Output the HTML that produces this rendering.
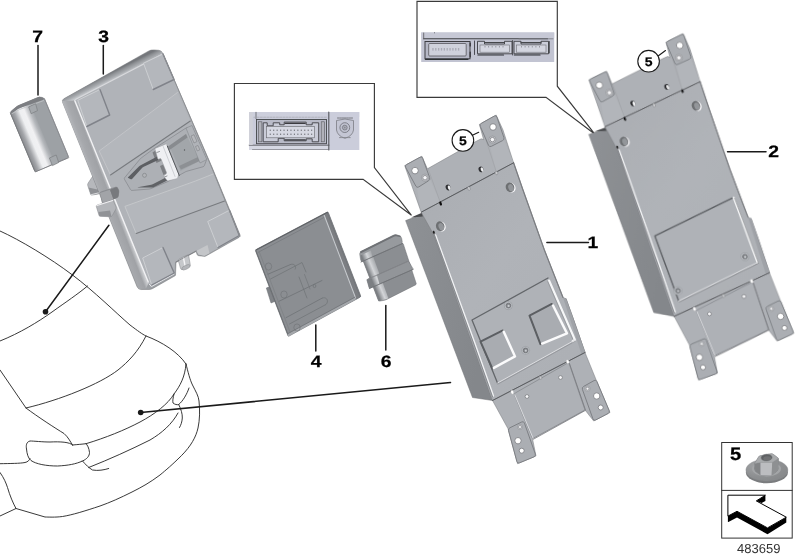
<!DOCTYPE html>
<html><head><meta charset="utf-8"><title>483659</title>
<style>html,body{margin:0;padding:0;background:#fff}svg{display:block}text{font-family:"Liberation Sans",Arial,sans-serif}</style>
</head><body>
<svg width="800" height="560" viewBox="0 0 800 560" text-rendering="geometricPrecision">
<defs>
<linearGradient id="gFace1" x1="0" y1="0" x2="1" y2="1"><stop offset="0" stop-color="#aaadb2"/><stop offset="0.45" stop-color="#b0b3b8"/><stop offset="1" stop-color="#acafb4"/></linearGradient>
<linearGradient id="gSide1" x1="0" y1="0" x2="1" y2="0.4"><stop offset="0" stop-color="#8e9195"/><stop offset="1" stop-color="#84878b"/></linearGradient>
<linearGradient id="gCyl7" gradientUnits="userSpaceOnUse" x1="10" y1="113" x2="31" y2="104.2"><stop offset="0" stop-color="#85878b"/><stop offset="0.18" stop-color="#a4a6aa"/><stop offset="0.42" stop-color="#eeeff1"/><stop offset="0.62" stop-color="#f1f1f3"/><stop offset="0.85" stop-color="#b4b7bb"/><stop offset="1" stop-color="#9da1a5"/></linearGradient>
<linearGradient id="gCyl6" gradientUnits="userSpaceOnUse" x1="360" y1="252" x2="372" y2="247"><stop offset="0" stop-color="#7c7f83"/><stop offset="0.4" stop-color="#d3d5d8"/><stop offset="1" stop-color="#8d9094"/></linearGradient>
<radialGradient id="gNut" cx="0.35" cy="0.3" r="0.85"><stop offset="0" stop-color="#a5a7a9"/><stop offset="0.6" stop-color="#8d8f91"/><stop offset="1" stop-color="#848688"/></radialGradient>
<filter id="soft" x="-5%" y="-5%" width="110%" height="110%"><feGaussianBlur stdDeviation="0.35"/></filter>
<filter id="soft2" x="-10%" y="-10%" width="120%" height="120%"><feGaussianBlur stdDeviation="0.7"/></filter>
</defs>
<rect width="800" height="560" fill="#fff"/>
<path d="M0 231 C20 240 50 258 72.5 275 C95 292 115 312 130 325 C138 331 142 334 146 336 C162 342 178 352 186 364" fill="none" stroke="#222" stroke-width="0.9" stroke-linecap="round" stroke-linejoin="round"/>
<path d="M0 341 C20 333 38 322 52 312 C66 302 78 294 87.5 286" fill="none" stroke="#222" stroke-width="0.9" stroke-linecap="round" stroke-linejoin="round"/>
<path d="M146 336 C138 352 128 362 118 370 C100 384 60 400 26 408" fill="none" stroke="#222" stroke-width="0.9" stroke-linecap="round" stroke-linejoin="round"/>
<path d="M0 370 L26 408 C38 417 55 428 64 433.5 C68 437 70 441 72.5 445" fill="none" stroke="#222" stroke-width="0.9" stroke-linecap="round" stroke-linejoin="round"/>
<path d="M72.5 445 C78 444.5 82 444.2 86 443.7 C105 438 125 430 140 422 C155 414 168 404 174 394 C180 386 185 377 186 364" fill="none" stroke="#222" stroke-width="0.9" stroke-linecap="round" stroke-linejoin="round"/>
<path d="M186 364 C188 372 190 380 192.5 385 C196 392 198.5 396 199 401 C200 410 199.8 420 198 428 C196 437 191 446 181.4 455.7 C172 465 166 470 160 475 C150 482.5 142 487 132 492 C120 498 110 502.5 100 506 C85 511 72 515 62.5 516.5 C55 517.5 48 517 45 517 L16 508.5" fill="none" stroke="#222" stroke-width="0.9" stroke-linecap="round" stroke-linejoin="round"/>
<path d="M174 394 C173 398 172.5 401 173 403 C175 404.5 177 405 178.7 404.5 C183 401 187 394 189 388" fill="none" stroke="#222" stroke-width="0.9" stroke-linecap="round" stroke-linejoin="round"/>
<path d="M178.7 404.5 C181 409 182.5 414 182.3 418 C182 422 181 425 179.5 427.5" fill="none" stroke="#222" stroke-width="0.9" stroke-linecap="round" stroke-linejoin="round"/>
<path d="M88.7 467.5 C110 459 130 450 150 440 C162 433 172 424 178 413" fill="none" stroke="#222" stroke-width="0.9" stroke-linecap="round" stroke-linejoin="round"/>
<path d="M82.5 461 C86 465 89 468 92.5 470 C98 471 104 470 108.7 468.5" fill="none" stroke="#222" stroke-width="0.9" stroke-linecap="round" stroke-linejoin="round"/>
<path d="M72.5 445 C70 442 60 441.5 50 442 C42 442 34 441 30 441 C26 442 26 446 26.5 449 C27 454 28 458 31 460.5 C36 464 46 466 57.5 466 C68 465.5 76 464 82.5 461 C87 459 89.5 456 89.5 452.5 C89 448 87.5 445 86 443.7" fill="none" stroke="#222" stroke-width="0.9" stroke-linecap="round" stroke-linejoin="round"/>
<path d="M0 463.7 C10 463.5 20 463.5 25 462.5 C28 462 29.5 460 30 458.5" fill="none" stroke="#222" stroke-width="0.9" stroke-linecap="round" stroke-linejoin="round"/>
<path d="M0 472.5 C4 478 6 483 7.5 487.5 C10 496 13 503 16 508.5 L0 516" fill="none" stroke="#222" stroke-width="0.9" stroke-linecap="round" stroke-linejoin="round"/>
<polyline points="45.50,311.70 108.90,225.30" fill="none" stroke="#1a1a1a" stroke-width="1.5" stroke-linecap="round" stroke-linejoin="round" />
<circle cx="45.50" cy="311.70" r="2.80" fill="#1a1a1a" stroke="none" stroke-width="0.5" />
<polyline points="140.70,412.50 450.50,382.60" fill="none" stroke="#1a1a1a" stroke-width="1.5" stroke-linecap="round" stroke-linejoin="round" />
<circle cx="140.70" cy="412.50" r="2.80" fill="#1a1a1a" stroke="none" stroke-width="0.5" />
<polyline points="38.00,45.50 38.00,95.00" fill="none" stroke="#1a1a1a" stroke-width="1.5" stroke-linecap="round" stroke-linejoin="round" />
<polyline points="103.30,45.50 103.30,74.00" fill="none" stroke="#1a1a1a" stroke-width="1.5" stroke-linecap="round" stroke-linejoin="round" />
<polyline points="315.80,325.00 315.80,351.00" fill="none" stroke="#1a1a1a" stroke-width="1.5" stroke-linecap="round" stroke-linejoin="round" />
<polyline points="385.80,305.50 385.80,350.00" fill="none" stroke="#1a1a1a" stroke-width="1.5" stroke-linecap="round" stroke-linejoin="round" />
<polyline points="546.90,242.50 588.50,242.50" fill="none" stroke="#1a1a1a" stroke-width="1.5" stroke-linecap="round" stroke-linejoin="round" />
<polyline points="727.50,151.70 766.00,151.70" fill="none" stroke="#1a1a1a" stroke-width="1.5" stroke-linecap="round" stroke-linejoin="round" />
<text opacity="0.999" transform="translate(37.50 42.20) scale(1.17 1)" font-size="16.5" font-weight="bold" text-anchor="middle" fill="#000" stroke="#000" stroke-width="0.25" >7</text>
<text opacity="0.999" transform="translate(103.50 42.20) scale(1.17 1)" font-size="16.5" font-weight="bold" text-anchor="middle" fill="#000" stroke="#000" stroke-width="0.25" >3</text>
<text opacity="0.999" transform="translate(316.00 366.90) scale(1.17 1)" font-size="16.5" font-weight="bold" text-anchor="middle" fill="#000" stroke="#000" stroke-width="0.25" >4</text>
<text opacity="0.999" transform="translate(386.00 366.90) scale(1.17 1)" font-size="16.5" font-weight="bold" text-anchor="middle" fill="#000" stroke="#000" stroke-width="0.25" >6</text>
<text opacity="0.999" transform="translate(592.80 248.00) scale(1.17 1)" font-size="16.5" font-weight="bold" text-anchor="middle" fill="#000" stroke="#000" stroke-width="0.25" >1</text>
<text opacity="0.999" transform="translate(773.50 156.90) scale(1.17 1)" font-size="16.5" font-weight="bold" text-anchor="middle" fill="#000" stroke="#000" stroke-width="0.25" >2</text>
<path d="M234.4 83.5 H374.4 V167.5 L411.5 215.3 L363.1 179.3 H234.4 Z" fill="#fff" stroke="#3a3a3a" stroke-width="1.15" stroke-linejoin="miter"/>
<path d="M417 1.3 H557.3 V86.2 L595 134.3 L546 97.3 H417 Z" fill="#fff" stroke="#3a3a3a" stroke-width="1.15" stroke-linejoin="miter"/>
<g filter="url(#soft)">
<polygon points="404.70,165.60 421.90,156.20 427.40,168.80 476.20,141.30 481.20,138.80 483.60,139.60 479.40,124.40 496.20,115.00 503.00,130.00 513.60,162.80 421.20,212.20" fill="#aeb1b6" stroke="#77797d" stroke-width="0.5" stroke-linejoin="round" />
<polygon points="416.90,188.10 430.00,179.40 440.60,203.20 421.20,212.20" fill="#b2b5ba" stroke="none" stroke-width="0.6" stroke-linejoin="round" />
<polygon points="490.00,145.60 503.70,139.50 513.60,162.80 496.50,172.50" fill="#b2b5ba" stroke="none" stroke-width="0.6" stroke-linejoin="round" />
<polyline points="428.10,168.80 440.60,203.20" fill="none" stroke="#9a9ca0" stroke-width="0.5" stroke-linecap="round" stroke-linejoin="round" />
<polyline points="486.00,140.00 496.50,172.50" fill="none" stroke="#9a9ca0" stroke-width="0.5" stroke-linecap="round" stroke-linejoin="round" />
<path d="M405.75 167.53 Q404.70 165.60 406.63 164.54 L419.97 157.26 Q421.90 156.20 422.65 158.27 L429.65 177.53 Q430.40 179.60 428.54 180.77 L418.76 186.93 Q416.90 188.10 415.85 186.17 Z" fill="#abaeb3" stroke="#787b7f" stroke-width="0.9" />
<circle cx="415.00" cy="170.60" r="3.30" fill="#fff" stroke="#77797d" stroke-width="0.8" />
<circle cx="425.00" cy="177.70" r="3.60" fill="#c6c8cc" stroke="#8a8c90" stroke-width="0.6" />
<circle cx="425.00" cy="177.70" r="2.20" fill="#f6f6f8" stroke="#77797d" stroke-width="0.7" />
<path d="M480.28 126.42 Q479.40 124.40 481.32 123.33 L494.28 116.07 Q496.20 115.00 496.91 117.08 L503.89 137.52 Q504.60 139.60 502.64 140.59 L491.36 146.31 Q489.40 147.30 488.52 145.28 Z" fill="#abaeb3" stroke="#787b7f" stroke-width="0.9" />
<circle cx="493.00" cy="127.00" r="3.30" fill="#fff" stroke="#77797d" stroke-width="0.8" />
<circle cx="492.40" cy="139.60" r="3.60" fill="#c6c8cc" stroke="#8a8c90" stroke-width="0.6" />
<circle cx="492.40" cy="139.60" r="2.20" fill="#f6f6f8" stroke="#77797d" stroke-width="0.7" />
<ellipse cx="448.10" cy="187.50" rx="2.40" ry="2.90" fill="#2e2f32" stroke="none" stroke-width="0.5" transform="rotate(-20 448.10 187.50)" />
<ellipse cx="449.20" cy="187.70" rx="1.30" ry="2.30" fill="#ecedef" stroke="none" stroke-width="0.5" transform="rotate(-20 449.20 187.70)" />
<ellipse cx="481.00" cy="169.40" rx="2.40" ry="2.90" fill="#2e2f32" stroke="none" stroke-width="0.5" transform="rotate(-20 481.00 169.40)" />
<ellipse cx="482.10" cy="169.60" rx="1.30" ry="2.30" fill="#ecedef" stroke="none" stroke-width="0.5" transform="rotate(-20 482.10 169.60)" />
<polygon points="405.60,220.60 422.50,214.20 433.50,233.00 492.50,400.50 472.50,397.50" fill="url(#gSide1)" stroke="#6f7175" stroke-width="0.5" stroke-linejoin="round" />
<polygon points="411.00,217.50 422.50,212.60 422.80,216.50" fill="#4a4b4e" stroke="none" stroke-width="0.6" stroke-linejoin="round" />
<polygon points="421.20,212.20 513.60,162.80 523.00,190.00 544.40,250.00 563.00,297.50 566.00,298.70 573.70,320.00 585.00,352.50 492.50,400.50 433.30,234.00" fill="url(#gFace1)" stroke="#7d7f83" stroke-width="0.6" stroke-linejoin="round" />
<polyline points="435.60,235.00 475.00,343.50 493.50,396.00" fill="none" stroke="#f0f1f3" stroke-width="1.4" stroke-linecap="round" stroke-linejoin="round" />
<polyline points="434.30,234.50 474.00,344.50 492.60,397.00" fill="none" stroke="#6c6e72" stroke-width="0.6" stroke-linecap="round" stroke-linejoin="round" />
<polyline points="513.60,162.80 523.00,190.00 544.40,250.00 563.00,297.50" fill="none" stroke="#7b7d81" stroke-width="1.2" stroke-linecap="round" stroke-linejoin="round" />
<polyline points="566.00,298.70 573.70,320.00 585.00,352.50" fill="none" stroke="#8b8d91" stroke-width="1.0" stroke-linecap="round" stroke-linejoin="round" />
<polygon points="563.00,297.50 566.00,298.70 585.00,352.50 581.50,354.30" fill="#a0a3a8" stroke="none" stroke-width="0.6" stroke-linejoin="round" />
<polyline points="421.20,212.20 513.60,162.80" fill="none" stroke="#55575a" stroke-width="0.9" stroke-linecap="round" stroke-linejoin="round" />
<ellipse cx="440.60" cy="203.50" rx="1.20" ry="2.20" fill="#111" stroke="none" stroke-width="0.5" transform="rotate(-20 440.60 203.50)" />
<ellipse cx="469.00" cy="188.50" rx="1.30" ry="1.90" fill="#c9cacd" stroke="#77797d" stroke-width="0.4" transform="rotate(-20 469.00 188.50)" />
<ellipse cx="496.50" cy="173.00" rx="1.30" ry="1.90" fill="#c9cacd" stroke="#77797d" stroke-width="0.4" transform="rotate(-20 496.50 173.00)" />
<ellipse cx="441.50" cy="226.60" rx="4.20" ry="4.90" fill="#f8f8fa" stroke="none" stroke-width="0.5" transform="rotate(-20 441.50 226.60)" />
<ellipse cx="440.20" cy="226.20" rx="4.20" ry="4.90" fill="#6d6f72" stroke="none" stroke-width="0.5" transform="rotate(-20 440.20 226.20)" />
<ellipse cx="441.20" cy="226.70" rx="2.60" ry="3.80" fill="#93969a" stroke="none" stroke-width="0.5" transform="rotate(-20 441.20 226.70)" />
<ellipse cx="511.30" cy="187.70" rx="4.20" ry="4.90" fill="#f8f8fa" stroke="none" stroke-width="0.5" transform="rotate(-20 511.30 187.70)" />
<ellipse cx="510.00" cy="187.30" rx="4.20" ry="4.90" fill="#6d6f72" stroke="none" stroke-width="0.5" transform="rotate(-20 510.00 187.30)" />
<ellipse cx="511.00" cy="187.80" rx="2.60" ry="3.80" fill="#93969a" stroke="none" stroke-width="0.5" transform="rotate(-20 511.00 187.80)" />
<ellipse cx="433.80" cy="232.30" rx="1.00" ry="1.60" fill="#222" stroke="none" stroke-width="0.5" transform="rotate(-20 433.80 232.30)" />
<polygon points="492.50,400.50 585.00,352.50 596.00,379.50 610.00,412.50 593.70,421.00 585.00,410.00 532.50,438.70 536.00,456.00 517.50,463.70 508.00,428.70" fill="#aeb1b6" stroke="#77797d" stroke-width="0.5" stroke-linejoin="round" />
<polyline points="492.50,400.50 585.00,352.50" fill="none" stroke="#55575a" stroke-width="0.9" stroke-linecap="round" stroke-linejoin="round" />
<path d="M514.57 395.09 Q514.00 393.70 515.30 392.96 L567.40 363.24 Q568.70 362.50 569.19 363.92 L584.51 408.58 Q585.00 410.00 583.68 410.72 L533.82 437.98 Q532.50 438.70 531.93 437.31 Z" fill="#aeb1b6" stroke="#82858a" stroke-width="0.7" />
<polyline points="514.80,394.80 533.00,438.00" fill="none" stroke="#dfe0e3" stroke-width="0.9" stroke-linecap="round" stroke-linejoin="round" />
<polyline points="569.50,363.50 585.60,410.30 533.50,439.20" fill="none" stroke="#77797d" stroke-width="0.8" stroke-linecap="round" stroke-linejoin="round" />
<path d="M508.58 430.82 Q508.00 428.70 509.98 427.73 L521.72 421.97 Q523.70 421.00 524.43 423.08 L535.27 453.92 Q536.00 456.00 533.97 456.85 L519.53 462.85 Q517.50 463.70 516.92 461.58 Z" fill="#abaeb3" stroke="#787b7f" stroke-width="0.9" />
<circle cx="520.00" cy="427.00" r="2.70" fill="#c6c8cc" stroke="#8a8c90" stroke-width="0.5" />
<circle cx="520.00" cy="427.00" r="1.50" fill="#f6f6f8" stroke="#77797d" stroke-width="0.6" />
<circle cx="518.00" cy="440.70" r="3.20" fill="#fff" stroke="#77797d" stroke-width="0.8" />
<circle cx="521.70" cy="450.70" r="2.50" fill="#fff" stroke="#77797d" stroke-width="0.8" />
<path d="M582.44 389.57 Q581.70 387.50 583.62 386.43 L594.08 380.57 Q596.00 379.50 596.86 381.53 L609.14 410.47 Q610.00 412.50 608.05 413.52 L595.65 419.98 Q593.70 421.00 592.96 418.93 Z" fill="#abaeb3" stroke="#787b7f" stroke-width="0.9" />
<circle cx="587.50" cy="388.70" r="2.70" fill="#c6c8cc" stroke="#8a8c90" stroke-width="0.5" />
<circle cx="587.50" cy="388.70" r="1.50" fill="#f6f6f8" stroke="#77797d" stroke-width="0.6" />
<circle cx="596.70" cy="396.00" r="3.20" fill="#fff" stroke="#77797d" stroke-width="0.8" />
<circle cx="600.70" cy="407.50" r="2.50" fill="#fff" stroke="#77797d" stroke-width="0.8" />
<circle cx="527.00" cy="396.50" r="1.90" fill="#f6f6f8" stroke="#707276" stroke-width="0.7" />
<circle cx="560.50" cy="377.50" r="1.90" fill="#f6f6f8" stroke="#707276" stroke-width="0.7" />
<ellipse cx="512.30" cy="392.20" rx="1.40" ry="2.00" fill="#fff" stroke="#9a9c9f" stroke-width="0.3" transform="rotate(-20 512.30 392.20)" />
<ellipse cx="567.70" cy="361.70" rx="1.40" ry="2.00" fill="#fff" stroke="#9a9c9f" stroke-width="0.3" transform="rotate(-20 567.70 361.70)" />
<ellipse cx="540.50" cy="377.70" rx="1.30" ry="1.70" fill="#c9cacd" stroke="#77797d" stroke-width="0.4" transform="rotate(-20 540.50 377.70)" />
<path d="M473.13 322.78 Q472.00 320.00 474.63 318.55 L545.37 279.45 Q548.00 278.00 549.20 280.75 L573.80 337.25 Q575.00 340.00 572.38 341.46 L500.12 381.54 Q497.50 383.00 496.37 380.22 Z" fill="#afb2b7" stroke="none" stroke-width="0" />
<polyline points="497.50,383.00 472.00,320.00 548.00,278.00" fill="none" stroke="#63666a" stroke-width="1.3" stroke-linecap="round" stroke-linejoin="round" />
<polyline points="549.08,280.48 575.00,340.00 572.67,341.29" fill="none" stroke="#f6f7f8" stroke-width="2.1" stroke-linecap="round" stroke-linejoin="round" />
<polyline points="549.35,281.10 574.19,338.14" fill="none" stroke="#8b8d91" stroke-width="0.6" stroke-linecap="round" stroke-linejoin="round" transform="translate(-1.6 0.6)"/>
<polyline points="575.00,340.00 497.50,383.00" fill="none" stroke="#dcdde0" stroke-width="1.0" stroke-linecap="round" stroke-linejoin="round" />
<polyline points="575.00,340.00 497.50,383.00" fill="none" stroke="#85878b" stroke-width="0.6" stroke-linecap="round" stroke-linejoin="round" transform="translate(0.4 1.1)"/>
<path d="M480.80 342.83 Q480.00 341.00 481.79 340.11 L501.21 330.39 Q503.00 329.50 503.83 331.32 L514.67 355.18 Q515.50 357.00 513.74 357.96 L494.26 368.54 Q492.50 369.50 491.70 367.67 Z" fill="#a9acb1" stroke="none" stroke-width="0" />
<g filter="url(#soft2)">
<polyline points="491.88,368.07 480.00,341.00 502.31,329.85" fill="none" stroke="#5c5f63" stroke-width="2.0" stroke-linecap="round" stroke-linejoin="round" transform="translate(0.5 0.6)"/>
<polyline points="504.25,332.25 515.50,357.00 494.34,368.50" fill="none" stroke="#fbfbfc" stroke-width="2.4" stroke-linecap="round" stroke-linejoin="round" transform="translate(-0.5 -0.6)"/>
</g>
<path d="M529.72 316.87 Q529.00 315.00 530.77 314.07 L550.23 303.93 Q552.00 303.00 552.89 304.79 L566.61 332.21 Q567.50 334.00 565.65 334.75 L542.35 344.25 Q540.50 345.00 539.78 343.13 Z" fill="#a9acb1" stroke="none" stroke-width="0" />
<g filter="url(#soft2)">
<polyline points="539.92,343.50 529.00,315.00 551.31,303.36" fill="none" stroke="#5c5f63" stroke-width="2.0" stroke-linecap="round" stroke-linejoin="round" transform="translate(0.5 0.6)"/>
<polyline points="553.55,306.10 567.50,334.00 542.66,344.12" fill="none" stroke="#fbfbfc" stroke-width="2.4" stroke-linecap="round" stroke-linejoin="round" transform="translate(-0.5 -0.6)"/>
</g>
<circle cx="508.40" cy="305.60" r="4.00" fill="#bbbec3" stroke="#8f9296" stroke-width="0.5" />
<circle cx="508.40" cy="305.60" r="2.40" fill="#84878b" stroke="#5f6266" stroke-width="0.6" />
<circle cx="508.60" cy="305.90" r="1.10" fill="#c9ccd0" stroke="none" stroke-width="0.5" />
<circle cx="525.60" cy="350.40" r="4.00" fill="#bbbec3" stroke="#8f9296" stroke-width="0.5" />
<circle cx="525.60" cy="350.40" r="2.40" fill="#84878b" stroke="#5f6266" stroke-width="0.6" />
<circle cx="525.80" cy="350.70" r="1.10" fill="#c9ccd0" stroke="none" stroke-width="0.5" />
</g>
<g transform="matrix(1.020733 0.042918 -0.018635 0.991014 178.921 -101.655)" filter="url(#soft)">
<polygon points="404.70,165.60 421.90,156.20 427.40,168.80 476.20,141.30 481.20,138.80 483.60,139.60 479.40,124.40 496.20,115.00 503.00,130.00 513.60,162.80 421.20,212.20" fill="#aeb1b6" stroke="#77797d" stroke-width="0.5" stroke-linejoin="round" />
<polygon points="416.90,188.10 430.00,179.40 440.60,203.20 421.20,212.20" fill="#b2b5ba" stroke="none" stroke-width="0.6" stroke-linejoin="round" />
<polygon points="490.00,145.60 503.70,139.50 513.60,162.80 496.50,172.50" fill="#b2b5ba" stroke="none" stroke-width="0.6" stroke-linejoin="round" />
<polyline points="428.10,168.80 440.60,203.20" fill="none" stroke="#9a9ca0" stroke-width="0.5" stroke-linecap="round" stroke-linejoin="round" />
<polyline points="486.00,140.00 496.50,172.50" fill="none" stroke="#9a9ca0" stroke-width="0.5" stroke-linecap="round" stroke-linejoin="round" />
<path d="M405.75 167.53 Q404.70 165.60 406.63 164.54 L419.97 157.26 Q421.90 156.20 422.65 158.27 L429.65 177.53 Q430.40 179.60 428.54 180.77 L418.76 186.93 Q416.90 188.10 415.85 186.17 Z" fill="#abaeb3" stroke="#787b7f" stroke-width="0.9" />
<circle cx="415.00" cy="170.60" r="3.30" fill="#fff" stroke="#77797d" stroke-width="0.8" />
<circle cx="425.00" cy="177.70" r="3.60" fill="#c6c8cc" stroke="#8a8c90" stroke-width="0.6" />
<circle cx="425.00" cy="177.70" r="2.20" fill="#f6f6f8" stroke="#77797d" stroke-width="0.7" />
<path d="M480.28 126.42 Q479.40 124.40 481.32 123.33 L494.28 116.07 Q496.20 115.00 496.91 117.08 L503.89 137.52 Q504.60 139.60 502.64 140.59 L491.36 146.31 Q489.40 147.30 488.52 145.28 Z" fill="#abaeb3" stroke="#787b7f" stroke-width="0.9" />
<circle cx="493.00" cy="127.00" r="3.30" fill="#fff" stroke="#77797d" stroke-width="0.8" />
<circle cx="492.40" cy="139.60" r="3.60" fill="#c6c8cc" stroke="#8a8c90" stroke-width="0.6" />
<circle cx="492.40" cy="139.60" r="2.20" fill="#f6f6f8" stroke="#77797d" stroke-width="0.7" />
<ellipse cx="448.10" cy="187.50" rx="2.40" ry="2.90" fill="#2e2f32" stroke="none" stroke-width="0.5" transform="rotate(-20 448.10 187.50)" />
<ellipse cx="449.20" cy="187.70" rx="1.30" ry="2.30" fill="#ecedef" stroke="none" stroke-width="0.5" transform="rotate(-20 449.20 187.70)" />
<ellipse cx="481.00" cy="169.40" rx="2.40" ry="2.90" fill="#2e2f32" stroke="none" stroke-width="0.5" transform="rotate(-20 481.00 169.40)" />
<ellipse cx="482.10" cy="169.60" rx="1.30" ry="2.30" fill="#ecedef" stroke="none" stroke-width="0.5" transform="rotate(-20 482.10 169.60)" />
<polygon points="405.60,220.60 422.50,214.20 433.50,233.00 492.50,400.50 472.50,397.50" fill="url(#gSide1)" stroke="#6f7175" stroke-width="0.5" stroke-linejoin="round" />
<polygon points="411.00,217.50 422.50,212.60 422.80,216.50" fill="#4a4b4e" stroke="none" stroke-width="0.6" stroke-linejoin="round" />
<polygon points="421.20,212.20 513.60,162.80 523.00,190.00 544.40,250.00 563.00,297.50 566.00,298.70 573.70,320.00 585.00,352.50 492.50,400.50 433.30,234.00" fill="url(#gFace1)" stroke="#7d7f83" stroke-width="0.6" stroke-linejoin="round" />
<polyline points="435.60,235.00 475.00,343.50 493.50,396.00" fill="none" stroke="#f0f1f3" stroke-width="1.4" stroke-linecap="round" stroke-linejoin="round" />
<polyline points="434.30,234.50 474.00,344.50 492.60,397.00" fill="none" stroke="#6c6e72" stroke-width="0.6" stroke-linecap="round" stroke-linejoin="round" />
<polyline points="513.60,162.80 523.00,190.00 544.40,250.00 563.00,297.50" fill="none" stroke="#7b7d81" stroke-width="1.2" stroke-linecap="round" stroke-linejoin="round" />
<polyline points="566.00,298.70 573.70,320.00 585.00,352.50" fill="none" stroke="#8b8d91" stroke-width="1.0" stroke-linecap="round" stroke-linejoin="round" />
<polygon points="563.00,297.50 566.00,298.70 585.00,352.50 581.50,354.30" fill="#a0a3a8" stroke="none" stroke-width="0.6" stroke-linejoin="round" />
<polyline points="421.20,212.20 513.60,162.80" fill="none" stroke="#55575a" stroke-width="0.9" stroke-linecap="round" stroke-linejoin="round" />
<ellipse cx="440.60" cy="203.50" rx="1.20" ry="2.20" fill="#111" stroke="none" stroke-width="0.5" transform="rotate(-20 440.60 203.50)" />
<ellipse cx="469.00" cy="188.50" rx="1.30" ry="1.90" fill="#c9cacd" stroke="#77797d" stroke-width="0.4" transform="rotate(-20 469.00 188.50)" />
<ellipse cx="496.50" cy="173.00" rx="1.20" ry="2.00" fill="#1c1c1e" stroke="none" stroke-width="0.5" transform="rotate(-20 496.50 173.00)" />
<ellipse cx="441.50" cy="226.60" rx="4.20" ry="4.90" fill="#f8f8fa" stroke="none" stroke-width="0.5" transform="rotate(-20 441.50 226.60)" />
<ellipse cx="440.20" cy="226.20" rx="4.20" ry="4.90" fill="#6d6f72" stroke="none" stroke-width="0.5" transform="rotate(-20 440.20 226.20)" />
<ellipse cx="441.20" cy="226.70" rx="2.60" ry="3.80" fill="#93969a" stroke="none" stroke-width="0.5" transform="rotate(-20 441.20 226.70)" />
<ellipse cx="511.30" cy="187.70" rx="4.20" ry="4.90" fill="#f8f8fa" stroke="none" stroke-width="0.5" transform="rotate(-20 511.30 187.70)" />
<ellipse cx="510.00" cy="187.30" rx="4.20" ry="4.90" fill="#6d6f72" stroke="none" stroke-width="0.5" transform="rotate(-20 510.00 187.30)" />
<ellipse cx="511.00" cy="187.80" rx="2.60" ry="3.80" fill="#93969a" stroke="none" stroke-width="0.5" transform="rotate(-20 511.00 187.80)" />
<ellipse cx="433.80" cy="232.30" rx="1.00" ry="1.60" fill="#222" stroke="none" stroke-width="0.5" transform="rotate(-20 433.80 232.30)" />
<polygon points="492.50,400.50 585.00,352.50 596.00,379.50 610.00,412.50 593.70,421.00 585.00,410.00 532.50,438.70 536.00,456.00 517.50,463.70 508.00,428.70" fill="#aeb1b6" stroke="#77797d" stroke-width="0.5" stroke-linejoin="round" />
<polyline points="492.50,400.50 585.00,352.50" fill="none" stroke="#55575a" stroke-width="0.9" stroke-linecap="round" stroke-linejoin="round" />
<path d="M514.57 395.09 Q514.00 393.70 515.30 392.96 L567.40 363.24 Q568.70 362.50 569.19 363.92 L584.51 408.58 Q585.00 410.00 583.68 410.72 L533.82 437.98 Q532.50 438.70 531.93 437.31 Z" fill="#aeb1b6" stroke="#82858a" stroke-width="0.7" />
<polyline points="514.80,394.80 533.00,438.00" fill="none" stroke="#dfe0e3" stroke-width="0.9" stroke-linecap="round" stroke-linejoin="round" />
<polyline points="569.50,363.50 585.60,410.30 533.50,439.20" fill="none" stroke="#77797d" stroke-width="0.8" stroke-linecap="round" stroke-linejoin="round" />
<path d="M508.58 430.82 Q508.00 428.70 509.98 427.73 L521.72 421.97 Q523.70 421.00 524.43 423.08 L535.27 453.92 Q536.00 456.00 533.97 456.85 L519.53 462.85 Q517.50 463.70 516.92 461.58 Z" fill="#abaeb3" stroke="#787b7f" stroke-width="0.9" />
<circle cx="520.00" cy="427.00" r="2.70" fill="#c6c8cc" stroke="#8a8c90" stroke-width="0.5" />
<circle cx="520.00" cy="427.00" r="1.50" fill="#f6f6f8" stroke="#77797d" stroke-width="0.6" />
<circle cx="518.00" cy="440.70" r="3.20" fill="#fff" stroke="#77797d" stroke-width="0.8" />
<circle cx="521.70" cy="450.70" r="2.50" fill="#fff" stroke="#77797d" stroke-width="0.8" />
<path d="M582.44 389.57 Q581.70 387.50 583.62 386.43 L594.08 380.57 Q596.00 379.50 596.86 381.53 L609.14 410.47 Q610.00 412.50 608.05 413.52 L595.65 419.98 Q593.70 421.00 592.96 418.93 Z" fill="#abaeb3" stroke="#787b7f" stroke-width="0.9" />
<circle cx="587.50" cy="388.70" r="2.70" fill="#c6c8cc" stroke="#8a8c90" stroke-width="0.5" />
<circle cx="587.50" cy="388.70" r="1.50" fill="#f6f6f8" stroke="#77797d" stroke-width="0.6" />
<circle cx="596.70" cy="396.00" r="3.20" fill="#fff" stroke="#77797d" stroke-width="0.8" />
<circle cx="600.70" cy="407.50" r="2.50" fill="#fff" stroke="#77797d" stroke-width="0.8" />
<circle cx="527.00" cy="396.50" r="1.90" fill="#f6f6f8" stroke="#707276" stroke-width="0.7" />
<circle cx="560.50" cy="377.50" r="1.90" fill="#f6f6f8" stroke="#707276" stroke-width="0.7" />
<ellipse cx="512.30" cy="392.20" rx="1.40" ry="2.00" fill="#fff" stroke="#9a9c9f" stroke-width="0.3" transform="rotate(-20 512.30 392.20)" />
<ellipse cx="567.70" cy="361.70" rx="1.40" ry="2.00" fill="#fff" stroke="#9a9c9f" stroke-width="0.3" transform="rotate(-20 567.70 361.70)" />
<ellipse cx="540.50" cy="377.70" rx="1.30" ry="1.70" fill="#c9cacd" stroke="#77797d" stroke-width="0.4" transform="rotate(-20 540.50 377.70)" />
<path d="M473.05 322.61 Q472.16 320.27 474.35 319.06 L546.30 279.32 Q548.49 278.11 549.38 280.45 L572.19 340.30 Q573.08 342.64 570.89 343.85 L498.89 383.59 Q496.70 384.80 495.81 382.46 Z" fill="#afb2b7" stroke="none" stroke-width="0" />
<polyline points="496.70,384.80 472.16,320.27 548.49,278.11" fill="none" stroke="#5c5f63" stroke-width="1.4" stroke-linecap="round" stroke-linejoin="round" />
<polyline points="548.49,278.11 573.08,342.64" fill="none" stroke="#f6f7f8" stroke-width="1.9" stroke-linecap="round" stroke-linejoin="round" />
<polyline points="573.08,342.64 496.70,384.80" fill="none" stroke="#dcdde0" stroke-width="1.0" stroke-linecap="round" stroke-linejoin="round" />
<polyline points="548.49,278.11 573.08,342.64 496.70,384.80" fill="none" stroke="#7b7d81" stroke-width="0.6" stroke-linecap="round" stroke-linejoin="round" transform="translate(1.1 0.8)"/>
<circle cx="560.74" cy="337.32" r="4.00" fill="#bbbec3" stroke="#8f9296" stroke-width="0.5" />
<circle cx="560.74" cy="337.32" r="2.40" fill="#84878b" stroke="#5f6266" stroke-width="0.6" />
<circle cx="560.94" cy="337.62" r="1.10" fill="#c9ccd0" stroke="none" stroke-width="0.5" />
<circle cx="495.78" cy="374.49" r="4.00" fill="#bbbec3" stroke="#8f9296" stroke-width="0.5" />
<circle cx="495.78" cy="374.49" r="2.40" fill="#84878b" stroke="#5f6266" stroke-width="0.6" />
<circle cx="495.98" cy="374.79" r="1.10" fill="#c9ccd0" stroke="none" stroke-width="0.5" />
</g>
<polyline points="472.40,135.20 478.70,132.30" fill="none" stroke="#1a1a1a" stroke-width="1.1" stroke-linecap="round" stroke-linejoin="round" />
<circle cx="462.90" cy="140.40" r="10.80" fill="#fff" stroke="#1a1a1a" stroke-width="1.1" />
<text opacity="0.999" transform="translate(462.90 144.90) scale(1.12 1)" font-size="12.5" font-weight="bold" text-anchor="middle" fill="#000" stroke="#000" stroke-width="0.2" >5</text>
<polyline points="658.10,56.00 665.50,50.50" fill="none" stroke="#1a1a1a" stroke-width="1.1" stroke-linecap="round" stroke-linejoin="round" />
<circle cx="648.60" cy="61.20" r="10.80" fill="#fff" stroke="#1a1a1a" stroke-width="1.1" />
<text opacity="0.999" transform="translate(648.60 65.70) scale(1.12 1)" font-size="12.5" font-weight="bold" text-anchor="middle" fill="#000" stroke="#000" stroke-width="0.2" >5</text>
<g filter="url(#soft)">
<path d="M10.77 113.85 Q10.00 112.00 11.56 110.75 L15.94 107.25 Q17.50 106.00 19.35 105.23 L37.65 97.57 Q39.50 96.80 41.44 97.29 L42.26 97.51 Q44.20 98.00 44.96 99.85 L68.04 155.65 Q68.80 157.50 66.96 158.29 L36.84 171.21 Q35.00 172.00 34.23 170.15 Z" fill="#9da1a5" stroke="#74777b" stroke-width="0.5" />
<path d="M10.58 113.88 Q10.00 112.50 11.37 111.90 L29.13 104.10 Q30.50 103.50 31.07 104.89 L54.43 161.61 Q55.00 163.00 53.63 163.62 L36.37 171.38 Q35.00 172.00 34.42 170.62 Z" fill="url(#gCyl7)" stroke="none" stroke-width="0.6" />
<path d="M10.88 112.62 Q10.30 111.80 11.06 111.15 L16.74 106.25 Q17.50 105.60 18.43 105.22 L38.57 96.98 Q39.50 96.60 40.45 96.90 L43.11 97.72 Q44.00 98.00 43.75 98.90 L43.75 98.90 Q43.50 99.80 42.62 100.11 L19.94 107.97 Q19.00 108.30 18.18 108.87 L12.32 112.93 Q11.50 113.50 10.92 112.68 Z" fill="#7c7e82" stroke="none" stroke-width="0.6" />
<polyline points="12.00,113.60 19.50,109.50 43.50,100.60" fill="none" stroke="#c3c5c8" stroke-width="0.8" stroke-linecap="round" stroke-linejoin="round" />
<polyline points="10.40,113.00 35.00,171.50" fill="none" stroke="#77797d" stroke-width="0.9" stroke-linecap="round" stroke-linejoin="round" />
<polyline points="35.50,171.80 68.50,157.80" fill="none" stroke="#77797d" stroke-width="0.8" stroke-linecap="round" stroke-linejoin="round" />
<polyline points="44.30,98.50 68.70,157.30" fill="none" stroke="#85878b" stroke-width="0.8" stroke-linecap="round" stroke-linejoin="round" />
<polygon points="28.70,106.90 35.60,103.70 37.50,110.60 31.20,113.70" fill="#a4a8ac" stroke="#7c7f83" stroke-width="0.7" stroke-linejoin="round" />
<polygon points="49.40,158.00 56.20,155.00 58.70,162.50 52.50,165.60" fill="#a4a8ac" stroke="#7c7f83" stroke-width="0.7" stroke-linejoin="round" />
</g>
<g filter="url(#soft)">
<path d="M363.43 261.72 Q363.00 260.60 364.10 260.12 L401.90 243.48 Q403.00 243.00 403.37 244.14 L416.13 283.26 Q416.50 284.40 415.43 284.94 L386.67 299.46 Q385.60 300.00 384.42 300.22 L379.88 301.08 Q378.70 301.30 378.27 300.18 Z" fill="#8b8e92" stroke="#6c6f73" stroke-width="0.5" />
<polygon points="363.00,260.60 373.00,256.20 388.50,298.50 378.70,301.30" fill="url(#gCyl6)" stroke="none" stroke-width="0.6" stroke-linejoin="round" />
<path d="M359.76 254.47 Q359.40 252.30 361.37 251.31 L393.03 235.39 Q395.00 234.40 397.11 235.01 L399.09 235.59 Q401.20 236.20 401.61 238.36 L402.19 241.34 Q402.60 243.50 400.59 244.39 L363.01 261.11 Q361.00 262.00 360.64 259.83 Z" fill="#979a9e" stroke="#6c6f73" stroke-width="0.5" />
<path d="M360.28 252.53 Q359.60 251.80 360.50 251.35 L394.10 234.65 Q395.00 234.20 395.96 234.49 L400.33 235.80 Q401.00 236.00 400.65 236.60 L400.65 236.60 Q400.30 237.20 399.62 237.04 L396.27 236.23 Q395.30 236.00 394.41 236.45 L361.89 252.85 Q361.00 253.30 360.32 252.57 Z" fill="#6f7276" stroke="none" stroke-width="0.6" />
<polygon points="360.50,255.50 371.00,250.50 372.50,257.00 361.20,262.00" fill="url(#gCyl6)" stroke="none" stroke-width="0.6" stroke-linejoin="round" />
<polyline points="361.00,262.00 402.60,243.50" fill="none" stroke="#6f7175" stroke-width="0.8" stroke-linecap="round" stroke-linejoin="round" />
<path d="M367.07 280.56 Q366.80 279.60 367.71 279.19 L407.59 261.41 Q408.50 261.00 409.00 261.87 L412.80 268.43 Q413.30 269.30 412.38 269.70 L370.22 288.10 Q369.30 288.50 369.03 287.54 Z" fill="#929599" stroke="#6c6f73" stroke-width="0.5" />
<polygon points="366.80,279.60 377.00,275.00 379.50,284.00 369.30,288.50" fill="url(#gCyl6)" stroke="none" stroke-width="0.6" stroke-linejoin="round" />
<polyline points="367.00,279.70 408.50,261.20" fill="none" stroke="#85878b" stroke-width="0.7" stroke-linecap="round" stroke-linejoin="round" />
<polyline points="369.30,288.50 413.30,269.30" fill="none" stroke="#6f7175" stroke-width="0.8" stroke-linecap="round" stroke-linejoin="round" />
</g>
<g filter="url(#soft)">
<polygon points="266.30,288.00 272.50,285.60 277.00,300.50 271.00,303.00" fill="#808387" stroke="#696c70" stroke-width="0.5" stroke-linejoin="round" />
<path d="M255.73 251.40 Q255.20 250.00 256.53 249.30 L326.67 212.40 Q328.00 211.70 328.54 213.10 L360.46 295.30 Q361.00 296.70 359.68 297.42 L289.52 335.78 Q288.20 336.50 287.67 335.10 Z" fill="#8b8e92" stroke="#66696d" stroke-width="0.6" />
<polygon points="323.50,214.20 328.00,211.70 361.00,296.70 355.50,299.50" fill="#7b7e82" stroke="none" stroke-width="0.6" stroke-linejoin="round" />
<polyline points="324.30,215.50 355.60,298.00" fill="none" stroke="#c6c9cd" stroke-width="1.1" stroke-linecap="round" stroke-linejoin="round" />
<polyline points="327.50,213.00 360.00,296.50" fill="none" stroke="#6f7175" stroke-width="0.7" stroke-linecap="round" stroke-linejoin="round" />
<polyline points="256.00,250.00 327.50,212.30" fill="none" stroke="#606367" stroke-width="1.2" stroke-linecap="round" stroke-linejoin="round" />
<polyline points="258.00,252.40 323.80,217.60" fill="none" stroke="#75787c" stroke-width="0.7" stroke-linecap="round" stroke-linejoin="round" />
<polyline points="256.00,251.00 288.50,336.00" fill="none" stroke="#6c6f73" stroke-width="1.0" stroke-linecap="round" stroke-linejoin="round" />
<polyline points="259.50,252.50 291.00,334.50" fill="none" stroke="#7a7d81" stroke-width="0.6" stroke-linecap="round" stroke-linejoin="round" />
<polygon points="288.20,336.50 355.80,299.60 355.00,297.30 287.40,334.00" fill="#a4a7ab" stroke="none" stroke-width="0.6" stroke-linejoin="round" />
<polyline points="287.60,333.80 355.00,297.20" fill="none" stroke="#696c70" stroke-width="0.7" stroke-linecap="round" stroke-linejoin="round" />
<polyline points="268.00,274.20 290.50,264.50" fill="none" stroke="#6f7276" stroke-width="0.8" stroke-linecap="round" stroke-linejoin="round" />
<polyline points="270.50,279.00 302.00,262.50 306.00,272.00" fill="none" stroke="#6f7276" stroke-width="0.7" stroke-linecap="round" stroke-linejoin="round" />
<polyline points="279.20,301.20 322.00,280.50" fill="none" stroke="#6f7276" stroke-width="0.8" stroke-linecap="round" stroke-linejoin="round" />
<polyline points="286.00,317.70 322.00,298.20" fill="none" stroke="#6f7276" stroke-width="0.8" stroke-linecap="round" stroke-linejoin="round" />
<polyline points="289.50,324.00 325.00,305.00" fill="none" stroke="#6f7276" stroke-width="0.7" stroke-linecap="round" stroke-linejoin="round" />
<polyline points="299.00,277.00 307.00,298.00" fill="none" stroke="#6f7276" stroke-width="0.7" stroke-linecap="round" stroke-linejoin="round" />
<polyline points="304.50,274.50 310.00,289.00" fill="none" stroke="#6f7276" stroke-width="0.6" stroke-linecap="round" stroke-linejoin="round" />
<path d="M322 298.2 C326 296.5 328.5 300 327 303 C326.3 304.5 325.6 304.8 325 305" fill="none" stroke="#6f7276" stroke-width="0.7"/>
<path d="M290.5 264.5 C294.5 263 296.6 266.8 295 269.5" fill="none" stroke="#6f7276" stroke-width="0.7"/>
<ellipse cx="268.50" cy="266.50" rx="3.20" ry="3.60" fill="none" stroke="#6f7276" stroke-width="0.6" transform="rotate(0 268.50 266.50)" />
<ellipse cx="284.00" cy="294.50" rx="3.20" ry="3.60" fill="none" stroke="#6f7276" stroke-width="0.6" transform="rotate(0 284.00 294.50)" />
<ellipse cx="297.00" cy="327.50" rx="3.20" ry="3.60" fill="none" stroke="#6f7276" stroke-width="0.6" transform="rotate(0 297.00 327.50)" />
<ellipse cx="314.50" cy="286.00" rx="1.40" ry="1.60" fill="none" stroke="#6f7276" stroke-width="0.7" transform="rotate(0 314.50 286.00)" />
</g>
<g filter="url(#soft)">
<path d="M94.06 176.39 Q93.50 175.00 92.67 176.25 L88.13 183.05 Q87.30 184.30 87.78 185.72 L90.52 193.88 Q91.00 195.30 92.48 195.03 L99.52 193.77 Q101.00 193.50 100.44 192.11 Z" fill="#b6b8bc" stroke="#85878b" stroke-width="0.5" />
<polygon points="88.50,187.50 91.00,195.30 101.00,193.50 99.50,190.00" fill="#8e9094" stroke="none" stroke-width="0.6" stroke-linejoin="round" />
<polyline points="91.50,194.60 100.50,192.40" fill="none" stroke="#e4e5e8" stroke-width="0.9" stroke-linecap="round" stroke-linejoin="round" />
<path d="M62.64 102.32 Q61.70 100.00 63.88 98.77 L148.39 51.17 Q151.00 49.70 153.99 49.93 L158.51 50.27 Q161.50 50.50 162.69 53.25 L211.46 165.91 Q211.50 166.00 211.54 166.09 L239.93 234.65 Q240.70 236.50 238.95 237.47 L228.44 243.26 Q228.00 243.50 227.56 243.75 L205.87 256.01 Q205.00 256.50 204.01 256.37 L198.49 255.63 Q197.50 255.50 197.15 254.56 L196.18 251.97 Q196.00 251.50 195.56 251.74 L176.44 262.26 Q176.00 262.50 175.98 263.00 L175.52 275.00 Q175.50 275.50 175.07 275.75 L152.74 288.51 Q151.00 289.50 149.00 289.50 L141.20 289.50 Q138.20 289.50 137.08 286.72 Z" fill="#9b9ea2" stroke="#707276" stroke-width="0.5" />
<linearGradient id="gT3" gradientUnits="userSpaceOnUse" x1="100" y1="78" x2="103.5" y2="85"><stop offset="0" stop-color="#74777b"/><stop offset="0.3" stop-color="#909397"/><stop offset="0.65" stop-color="#a8abaf"/><stop offset="1" stop-color="#c9ccd0"/></linearGradient>
<path d="M63.73 100.35 Q62.50 99.50 63.81 98.77 L149.69 50.63 Q151.00 49.90 152.49 50.03 L159.51 50.67 Q161.00 50.80 161.79 52.07 L162.21 52.73 Q163.00 54.00 161.67 54.70 L74.83 100.10 Q73.50 100.80 72.28 101.67 L70.22 103.13 Q69.00 104.00 67.77 103.15 Z" fill="url(#gT3)" stroke="none" stroke-width="0.6" />
<linearGradient id="gL3" gradientUnits="userSpaceOnUse" x1="62" y1="101" x2="75" y2="96"><stop offset="0" stop-color="#b4b6ba"/><stop offset="0.3" stop-color="#a7a9ad"/><stop offset="0.75" stop-color="#a0a2a6"/><stop offset="1" stop-color="#c9cbce"/></linearGradient>
<polygon points="61.90,101.00 74.00,100.50 148.50,283.00 146.00,288.50 138.60,289.00" fill="url(#gL3)" stroke="none" stroke-width="0.6" stroke-linejoin="round" />
<polygon points="74.50,100.20 163.00,53.80 211.00,166.50 239.50,236.00 227.50,243.00 204.50,255.80 198.50,254.50 196.50,250.50 175.00,262.00 174.50,274.50 151.00,287.50 148.20,282.50" fill="#b0b3b8" stroke="none" stroke-width="0.6" stroke-linejoin="round" />
<polyline points="74.80,100.80 148.20,282.00" fill="none" stroke="#f2f2f4" stroke-width="1.4" stroke-linecap="round" stroke-linejoin="round" />
<polyline points="75.50,99.60 162.00,54.60" fill="none" stroke="#d9dadd" stroke-width="1.1" stroke-linecap="round" stroke-linejoin="round" />
<polyline points="149.00,284.00 151.50,286.50 174.00,274.00" fill="none" stroke="#e4e5e8" stroke-width="1.0" stroke-linecap="round" stroke-linejoin="round" />
<path d="M99.82 193.47 Q99.50 192.00 100.93 191.54 L115.57 186.76 Q117.00 186.30 117.77 187.59 L118.73 189.21 Q119.50 190.50 119.29 191.98 L118.71 196.02 Q118.50 197.50 117.09 198.01 L103.41 202.99 Q102.00 203.50 101.68 202.03 Z" fill="#8b8d91" stroke="none" stroke-width="0.6" />
<polygon points="100.00,193.00 110.00,189.80 113.50,199.50 103.00,203.00" fill="#a2a4a8" stroke="none" stroke-width="0.6" stroke-linejoin="round" />
<path d="M110.34 190.74 Q110.00 189.80 110.93 189.43 L116.07 187.37 Q117.00 187.00 117.45 187.89 L118.55 190.11 Q119.00 191.00 118.88 191.99 L118.42 196.01 Q118.30 197.00 117.41 197.46 L114.39 199.04 Q113.50 199.50 113.16 198.56 Z" fill="#77797d" stroke="none" stroke-width="0.6" />
<path d="M96.35 206.65 Q96.00 205.50 97.14 205.12 L111.86 200.18 Q113.00 199.80 113.47 200.90 L116.03 206.90 Q116.50 208.00 115.91 209.04 L112.09 215.76 Q111.50 216.80 110.30 216.75 L100.50 216.35 Q99.30 216.30 98.95 215.15 Z" fill="#b3b5b9" stroke="#85878b" stroke-width="0.5" />
<polyline points="97.00,205.60 112.60,200.50" fill="none" stroke="#f0f0f2" stroke-width="1.1" stroke-linecap="round" stroke-linejoin="round" />
<polygon points="98.50,212.00 110.00,210.50 111.50,216.80 99.30,216.30" fill="#909296" stroke="none" stroke-width="0.6" stroke-linejoin="round" />
<path d="M78.19 101.43 Q77.80 100.30 78.88 99.78 L98.92 90.02 Q100.00 89.50 100.43 90.62 L109.27 113.88 Q109.70 115.00 108.63 115.54 L87.87 125.96 Q86.80 126.50 86.41 125.37 Z" fill="#b4b7bc" stroke="none" stroke-width="0" />
<polyline points="86.80,126.50 77.80,100.30 100.00,89.50" fill="none" stroke="#cfd1d5" stroke-width="0.9" stroke-linecap="round" stroke-linejoin="round" />
<polyline points="100.00,89.50 109.70,115.00 86.80,126.50" fill="none" stroke="#80838a" stroke-width="1.4" stroke-linecap="round" stroke-linejoin="round" />
<path d="M143.92 64.33 Q143.50 63.20 144.59 62.69 L161.91 54.51 Q163.00 54.00 163.48 55.10 L173.52 78.40 Q174.00 79.50 172.92 80.02 L154.28 88.98 Q153.20 89.50 152.78 88.37 Z" fill="#b4b7bc" stroke="none" stroke-width="0" />
<polyline points="153.20,89.50 143.50,63.20 163.00,54.00" fill="none" stroke="#cfd1d5" stroke-width="0.9" stroke-linecap="round" stroke-linejoin="round" />
<polyline points="163.00,54.00 174.00,79.50 153.20,89.50" fill="none" stroke="#80838a" stroke-width="1.4" stroke-linecap="round" stroke-linejoin="round" />
<path d="M143.08 259.14 Q142.70 258.00 143.77 257.45 L161.93 248.05 Q163.00 247.50 163.48 248.60 L173.72 271.90 Q174.20 273.00 173.14 273.56 L152.76 284.44 Q151.70 285.00 151.32 283.86 Z" fill="#b4b7bc" stroke="none" stroke-width="0" />
<polyline points="151.70,285.00 142.70,258.00 163.00,247.50" fill="none" stroke="#cfd1d5" stroke-width="0.9" stroke-linecap="round" stroke-linejoin="round" />
<polyline points="163.00,247.50 174.20,273.00 151.70,285.00" fill="none" stroke="#80838a" stroke-width="1.4" stroke-linecap="round" stroke-linejoin="round" />
<path d="M208.14 222.62 Q207.70 221.50 208.77 220.95 L228.43 210.75 Q229.50 210.20 229.93 211.32 L238.87 234.38 Q239.30 235.50 238.25 236.09 L219.05 246.91 Q218.00 247.50 217.56 246.38 Z" fill="#b4b7bc" stroke="none" stroke-width="0" />
<polyline points="218.00,247.50 207.70,221.50 229.50,210.20" fill="none" stroke="#cfd1d5" stroke-width="0.9" stroke-linecap="round" stroke-linejoin="round" />
<polyline points="229.50,210.20 239.30,235.50 218.00,247.50" fill="none" stroke="#80838a" stroke-width="1.4" stroke-linecap="round" stroke-linejoin="round" />
<path d="M99.54 151.72 Q99.20 151.00 99.84 150.52 L176.86 92.98 Q177.50 92.50 177.83 93.23 L189.97 120.27 Q190.30 121.00 189.64 121.45 L111.16 174.55 Q110.50 175.00 110.16 174.28 Z" fill="#b4b7bc" stroke="none" stroke-width="0" />
<polyline points="110.50,175.00 99.20,151.00 177.50,92.50" fill="none" stroke="#c6c8cb" stroke-width="0.8" stroke-linecap="round" stroke-linejoin="round" />
<polyline points="190.30,121.00 110.50,175.00" fill="none" stroke="#787b7f" stroke-width="1.1" stroke-linecap="round" stroke-linejoin="round" />
<path d="M124.50 179.36 Q124.00 178.50 124.64 177.73 L139.86 159.27 Q140.50 158.50 141.30 157.91 L151.20 150.59 Q152.00 150.00 152.84 149.46 L185.16 128.54 Q186.00 128.00 186.99 127.84 L191.01 127.16 Q192.00 127.00 192.40 127.92 L206.10 159.08 Q206.50 160.00 206.14 160.93 L204.36 165.57 Q204.00 166.50 203.04 166.77 L186.96 171.23 Q186.00 171.50 185.13 171.99 L168.87 181.01 Q168.00 181.50 167.08 181.88 L150.92 188.62 Q150.00 189.00 149.00 189.08 L132.00 190.42 Q131.00 190.50 130.50 189.64 Z" fill="#adb0b5" stroke="#7d8084" stroke-width="0.6" />
<polygon points="169.50,146.60 186.00,134.00 199.50,161.00 180.50,171.00" fill="#a2a6aa" stroke="none" stroke-width="0.6" stroke-linejoin="round" />
<polygon points="168.00,146.50 186.00,134.00 187.50,137.50 169.50,150.00" fill="#888b8f" stroke="none" stroke-width="0.6" stroke-linejoin="round" />
<polygon points="179.00,166.00 198.00,157.00 199.50,161.00 181.00,169.50" fill="#8d9094" stroke="none" stroke-width="0.6" stroke-linejoin="round" />
<circle cx="184.50" cy="150.00" r="0.70" fill="#55575a" stroke="none" stroke-width="0.5" />
<polygon points="152.50,152.50 158.50,148.50 163.00,160.00 156.50,163.00" fill="#7d7f83" stroke="none" stroke-width="0.6" stroke-linejoin="round" />
<polygon points="160.00,166.00 166.50,163.00 170.00,172.00 163.50,175.00" fill="#7d7f83" stroke="none" stroke-width="0.6" stroke-linejoin="round" />
<polygon points="186.00,128.00 192.00,125.50 206.80,159.50 200.00,163.00" fill="#b0b3b8" stroke="#7d8084" stroke-width="0.5" stroke-linejoin="round" />
<polygon points="191.00,136.00 194.00,134.70 197.00,141.50 194.00,143.00" fill="#b6b8bc" stroke="#77797d" stroke-width="0.5" stroke-linejoin="round" />
<polygon points="195.50,146.50 198.00,145.50 199.80,149.80 197.30,151.00" fill="#b6b8bc" stroke="#77797d" stroke-width="0.5" stroke-linejoin="round" />
<path d="M128.24 178.11 Q127.50 177.80 128.07 177.24 L138.93 166.56 Q139.50 166.00 140.20 165.62 L156.30 156.88 Q157.00 156.50 157.32 157.24 L158.18 159.26 Q158.50 160.00 157.77 160.33 L143.73 166.67 Q143.00 167.00 142.46 167.59 L132.04 178.91 Q131.50 179.50 130.76 179.19 Z" fill="#5d5f63" stroke="none" stroke-width="0.6" />
<path d="M137.80 187.50 Q137.00 187.50 137.78 187.34 L151.22 184.66 Q152.00 184.50 152.72 184.14 L169.28 175.86 Q170.00 175.50 170.36 176.22 L171.14 177.78 Q171.50 178.50 170.78 178.85 L153.72 187.15 Q153.00 187.50 152.20 187.50 Z" fill="#606266" stroke="none" stroke-width="0.6" />
<circle cx="144.50" cy="175.30" r="2.00" fill="#b1b3b7" stroke="#7b7d81" stroke-width="0.6" />
<path d="M155.08 149.46 Q154.80 148.50 155.73 148.13 L165.57 144.17 Q166.50 143.80 166.88 144.73 L178.42 173.07 Q178.80 174.00 178.52 174.96 L177.78 177.54 Q177.50 178.50 176.53 178.74 L168.47 180.76 Q167.50 181.00 166.88 180.22 L164.12 176.78 Q163.50 176.00 164.27 175.37 L166.03 173.93 Q166.80 173.30 166.43 172.37 L161.17 159.23 Q160.80 158.30 159.88 158.69 L158.92 159.11 Q158.00 159.50 157.72 158.54 Z" fill="#eff0f3" stroke="#9a9da1" stroke-width="0.5" />
<polyline points="167.30,146.00 179.30,175.50" fill="none" stroke="#55585c" stroke-width="1.0" stroke-linecap="round" stroke-linejoin="round" />
<polyline points="163.20,146.50 175.00,176.50" fill="none" stroke="#c9ccd0" stroke-width="0.9" stroke-linecap="round" stroke-linejoin="round" />
<polyline points="156.80,152.50 159.50,151.50" fill="none" stroke="#7c7f83" stroke-width="0.8" stroke-linecap="round" stroke-linejoin="round" />
<polyline points="164.50,177.00 167.00,176.00" fill="none" stroke="#7c7f83" stroke-width="0.8" stroke-linecap="round" stroke-linejoin="round" />
<path d="M125.21 207.14 Q124.90 206.40 125.65 206.13 L194.75 181.27 Q195.50 181.00 196.24 180.71 L212.46 174.29 Q213.20 174.00 213.51 174.74 L224.29 200.26 Q224.60 201.00 223.85 201.28 L136.95 233.22 Q136.20 233.50 135.89 232.76 Z" fill="#b4b7bc" stroke="none" stroke-width="0" />
<polyline points="136.20,233.50 124.90,206.40 195.50,181.00 213.20,174.00" fill="none" stroke="#c9cbce" stroke-width="0.8" stroke-linecap="round" stroke-linejoin="round" />
<polyline points="224.60,201.00 136.20,233.50" fill="none" stroke="#787b7f" stroke-width="1.1" stroke-linecap="round" stroke-linejoin="round" />
<path d="M178.41 260.94 Q178.00 259.50 179.35 258.86 L187.15 255.14 Q188.50 254.50 188.76 255.98 L190.24 264.52 Q190.50 266.00 189.12 266.58 L182.38 269.42 Q181.00 270.00 180.59 268.56 Z" fill="#c6c8cb" stroke="#808286" stroke-width="0.5" />
<polyline points="183.50,258.00 185.50,268.00" fill="none" stroke="#f4f4f6" stroke-width="1.4" stroke-linecap="round" stroke-linejoin="round" />
<ellipse cx="186.00" cy="267.30" rx="4.60" ry="2.00" fill="#b4b6ba" stroke="#808286" stroke-width="0.4" transform="rotate(-25 186.00 267.30)" />
<polygon points="196.50,250.80 207.50,245.00 209.50,253.30 204.50,255.80 198.50,254.50" fill="#c4c6c9" stroke="none" stroke-width="0.6" stroke-linejoin="round" />
<polyline points="176.00,262.00 196.00,251.00" fill="none" stroke="#77797d" stroke-width="0.7" stroke-linecap="round" stroke-linejoin="round" />
<polyline points="163.00,54.00 211.20,166.20 239.80,236.00" fill="none" stroke="#8b8d91" stroke-width="0.9" stroke-linecap="round" stroke-linejoin="round" />
</g>
<g filter="url(#soft)">
<rect x="249.2" y="112" width="110" height="38" fill="#c9cbda"/>
<rect x="249.2" y="112" width="110" height="5" fill="#cdcfdc"/>
<rect x="249.2" y="145" width="80" height="5" fill="#d6d8e3"/>
<rect x="329" y="112" width="30.2" height="38" fill="#cbcddb"/>
<polyline points="249.20,145.20 329.00,145.20" fill="none" stroke="#5a5b60" stroke-width="0.9" stroke-linecap="round" stroke-linejoin="round" />
<polyline points="252.50,149.50 328.00,149.50" fill="none" stroke="#7d7e84" stroke-width="0.7" stroke-linecap="round" stroke-linejoin="round" />
<polyline points="256.00,112.30 256.00,118.50" fill="none" stroke="#6a6b70" stroke-width="0.9" stroke-linecap="round" stroke-linejoin="round" />
<rect x="249.2" y="112" width="3.5" height="33" fill="#cfd0d8"/>
<polyline points="328.80,112.00 328.80,150.00" fill="none" stroke="#55565b" stroke-width="1.1" stroke-linecap="round" stroke-linejoin="round" />
<polyline points="254.00,117.20 327.00,117.20" fill="none" stroke="#a8a9af" stroke-width="0.7" stroke-linecap="round" stroke-linejoin="round" stroke-dasharray="2 1.2"/>
<g transform="translate(1.2 0.3)">
<rect x="255.3" y="119.2" width="70" height="24.2" fill="#b9bbc8" stroke="#45464b" stroke-width="0.9"/>
<rect x="257.5" y="121.5" width="3.2" height="20" fill="#b1b2ba" stroke="#5a5b60" stroke-width="0.6"/>
<rect x="320" y="121.5" width="3.2" height="20" fill="#b1b2ba" stroke="#5a5b60" stroke-width="0.6"/>
<path d="M262 141.5 V122.5 H266 V125.5 H272 V122.5 H278.5 V124.5 H283 V121.8 H305 V124.5 H311 V122.5 H317.5 V141.5 H311 V138.5 H305 V140.5 H283 V138 H277 V141.5 Z" fill="#c9cbd7" stroke="#3f4045" stroke-width="0.9" stroke-linejoin="miter"/>
<rect x="265.5" y="126" width="48" height="11.5" fill="#d6d8e2" stroke="#63646a" stroke-width="0.6"/>
<polyline points="284.00,123.00 304.00,123.00" fill="none" stroke="#3a3b40" stroke-width="1.3" stroke-linecap="round" stroke-linejoin="round" />
<polyline points="284.00,139.60 304.00,139.60" fill="none" stroke="#3a3b40" stroke-width="1.3" stroke-linecap="round" stroke-linejoin="round" />
<rect x="268.50" y="129.3" width="1.1" height="1.3" fill="#707178"/>
<rect x="268.50" y="133.3" width="1.1" height="1.3" fill="#707178"/>
<rect x="271.95" y="129.3" width="1.1" height="1.3" fill="#707178"/>
<rect x="271.95" y="133.3" width="1.1" height="1.3" fill="#707178"/>
<rect x="275.40" y="129.3" width="1.1" height="1.3" fill="#707178"/>
<rect x="275.40" y="133.3" width="1.1" height="1.3" fill="#707178"/>
<rect x="278.85" y="129.3" width="1.1" height="1.3" fill="#707178"/>
<rect x="278.85" y="133.3" width="1.1" height="1.3" fill="#707178"/>
<rect x="282.30" y="129.3" width="1.1" height="1.3" fill="#707178"/>
<rect x="282.30" y="133.3" width="1.1" height="1.3" fill="#707178"/>
<rect x="285.75" y="129.3" width="1.1" height="1.3" fill="#707178"/>
<rect x="285.75" y="133.3" width="1.1" height="1.3" fill="#707178"/>
<rect x="289.20" y="129.3" width="1.1" height="1.3" fill="#707178"/>
<rect x="289.20" y="133.3" width="1.1" height="1.3" fill="#707178"/>
<rect x="292.65" y="129.3" width="1.1" height="1.3" fill="#707178"/>
<rect x="292.65" y="133.3" width="1.1" height="1.3" fill="#707178"/>
<rect x="296.10" y="129.3" width="1.1" height="1.3" fill="#707178"/>
<rect x="296.10" y="133.3" width="1.1" height="1.3" fill="#707178"/>
<rect x="299.55" y="129.3" width="1.1" height="1.3" fill="#707178"/>
<rect x="299.55" y="133.3" width="1.1" height="1.3" fill="#707178"/>
<rect x="303.00" y="129.3" width="1.1" height="1.3" fill="#707178"/>
<rect x="303.00" y="133.3" width="1.1" height="1.3" fill="#707178"/>
<rect x="306.45" y="129.3" width="1.1" height="1.3" fill="#707178"/>
<rect x="306.45" y="133.3" width="1.1" height="1.3" fill="#707178"/>
<rect x="309.90" y="129.3" width="1.1" height="1.3" fill="#707178"/>
<rect x="309.90" y="133.3" width="1.1" height="1.3" fill="#707178"/>
</g>
<path d="M336.5 120.5 Q345 117.5 353.5 120.5 L353.5 130 Q352.5 136 345 138.3 Q337.5 136 336.5 130 Z" fill="#c4c6d4" stroke="#7b7c84" stroke-width="0.8"/>
<polyline points="337.50,118.00 352.50,118.00" fill="none" stroke="#77787e" stroke-width="1.0" stroke-linecap="round" stroke-linejoin="round" stroke-dasharray="1.5 0.8"/>
<polyline points="339.50,137.60 350.50,137.60" fill="none" stroke="#85868c" stroke-width="0.9" stroke-linecap="round" stroke-linejoin="round" stroke-dasharray="1.5 0.8"/>
<circle cx="344.80" cy="127.60" r="4.90" fill="#bfc1cf" stroke="#6f7078" stroke-width="0.8" />
<circle cx="344.80" cy="127.60" r="2.40" fill="#a9abb8" stroke="#63646a" stroke-width="0.6" />
<circle cx="344.80" cy="127.60" r="0.80" fill="#85868c" stroke="none" stroke-width="0.5" />
</g>
<g filter="url(#soft)">
<rect x="421.2" y="32.5" width="133" height="29.5" fill="#c2c4d2"/>
<rect x="421.2" y="32.5" width="133" height="5.5" fill="#c6c8d5"/>
<polyline points="423.70,38.80 547.50,38.80" fill="none" stroke="#404146" stroke-width="1.1" stroke-linecap="round" stroke-linejoin="round" />
<polyline points="519.00,38.80 553.00,38.80" fill="none" stroke="#77787e" stroke-width="0.8" stroke-linecap="round" stroke-linejoin="round" />
<polyline points="423.70,33.00 423.70,38.80" fill="none" stroke="#55565b" stroke-width="0.8" stroke-linecap="round" stroke-linejoin="round" />
<circle cx="434.50" cy="32.80" r="0.50" fill="#55565b" stroke="none" stroke-width="0.5" />
<rect x="425" y="41.5" width="45" height="17.3" fill="#b6b8c6" stroke="#3c3d42" stroke-width="1.0"/>
<rect x="428.7" y="43.5" width="37.5" height="12.5" rx="1" fill="#cfd1dc" stroke="#55565c" stroke-width="0.8"/>
<polyline points="425.50,59.30 468.00,59.30" fill="none" stroke="#2f3035" stroke-width="1.2" stroke-linecap="round" stroke-linejoin="round" />
<polyline points="470.20,43.00 470.20,46.00" fill="none" stroke="#2f3035" stroke-width="1.2" stroke-linecap="round" stroke-linejoin="round" />
<polyline points="470.20,52.00 470.20,57.00" fill="none" stroke="#2f3035" stroke-width="1.2" stroke-linecap="round" stroke-linejoin="round" />
<rect x="432.30" y="48" width="1.3" height="2.6" fill="#a9aab6"/>
<rect x="435.15" y="48" width="1.3" height="2.6" fill="#a9aab6"/>
<rect x="438.00" y="48" width="1.3" height="2.6" fill="#a9aab6"/>
<rect x="440.85" y="48" width="1.3" height="2.6" fill="#a9aab6"/>
<rect x="443.70" y="48" width="1.3" height="2.6" fill="#a9aab6"/>
<rect x="446.55" y="48" width="1.3" height="2.6" fill="#a9aab6"/>
<rect x="449.40" y="48" width="1.3" height="2.6" fill="#a9aab6"/>
<rect x="452.25" y="48" width="1.3" height="2.6" fill="#a9aab6"/>
<rect x="455.10" y="48" width="1.3" height="2.6" fill="#a9aab6"/>
<rect x="457.95" y="48" width="1.3" height="2.6" fill="#a9aab6"/>
<path d="M477.50 41.3 V53.8 H512.00 V41.3 H504.50 V44 H484.50 V41.3 Z" fill="#cbcdd9" stroke="#3c3d42" stroke-width="0.9"/>
<rect x="480.00" y="45" width="29.5" height="7.2" fill="#d4d6e0" stroke="#6f7077" stroke-width="0.6"/>
<polyline points="478.00,55.00 503.50,55.00" fill="none" stroke="#2f3035" stroke-width="1.2" stroke-linecap="round" stroke-linejoin="round" />
<polyline points="484.50,42.50 504.50,42.50" fill="none" stroke="#45464b" stroke-width="1.0" stroke-linecap="round" stroke-linejoin="round" />
<rect x="484.50" y="46.2" width="1" height="1.2" fill="#8a8b94"/>
<rect x="488.10" y="46.2" width="1" height="1.2" fill="#8a8b94"/>
<rect x="491.70" y="46.2" width="1" height="1.2" fill="#8a8b94"/>
<rect x="495.30" y="46.2" width="1" height="1.2" fill="#8a8b94"/>
<rect x="498.90" y="46.2" width="1" height="1.2" fill="#8a8b94"/>
<rect x="502.50" y="46.2" width="1" height="1.2" fill="#8a8b94"/>
<path d="M514.00 41.3 V53.8 H548.50 V41.3 H541.00 V44 H521.00 V41.3 Z" fill="#cbcdd9" stroke="#3c3d42" stroke-width="0.9"/>
<rect x="516.50" y="45" width="29.5" height="7.2" fill="#d4d6e0" stroke="#6f7077" stroke-width="0.6"/>
<polyline points="514.50,55.00 540.00,55.00" fill="none" stroke="#2f3035" stroke-width="1.2" stroke-linecap="round" stroke-linejoin="round" />
<polyline points="521.00,42.50 541.00,42.50" fill="none" stroke="#45464b" stroke-width="1.0" stroke-linecap="round" stroke-linejoin="round" />
<rect x="521.00" y="46.2" width="1" height="1.2" fill="#8a8b94"/>
<rect x="524.60" y="46.2" width="1" height="1.2" fill="#8a8b94"/>
<rect x="528.20" y="46.2" width="1" height="1.2" fill="#8a8b94"/>
<rect x="531.80" y="46.2" width="1" height="1.2" fill="#8a8b94"/>
<rect x="535.40" y="46.2" width="1" height="1.2" fill="#8a8b94"/>
<rect x="539.00" y="46.2" width="1" height="1.2" fill="#8a8b94"/>
<polyline points="474.50,41.00 474.50,54.50" fill="none" stroke="#404146" stroke-width="0.9" stroke-linecap="round" stroke-linejoin="round" />
<polyline points="512.70,40.50 512.70,55.00" fill="none" stroke="#404146" stroke-width="1.0" stroke-linecap="round" stroke-linejoin="round" />
<polyline points="549.30,41.50 549.30,53.00" fill="none" stroke="#404146" stroke-width="0.9" stroke-linecap="round" stroke-linejoin="round" />
</g>
<rect x="721.7" y="442.5" width="70.5" height="95.6" fill="#fff" stroke="#333" stroke-width="1"/>
<polyline points="721.70,490.40 792.20,490.40" fill="none" stroke="#333" stroke-width="1" stroke-linecap="round" stroke-linejoin="round" />
<text opacity="0.999" transform="translate(735.50 460.30) scale(1.12 1)" font-size="18" font-weight="bold" text-anchor="middle" fill="#000" stroke="#000" stroke-width="0.25" >5</text>
<text opacity="0.999" transform="translate(758.70 553.20) scale(1.0 1)" font-size="13" font-weight="normal" text-anchor="middle" fill="#333" >483659</text>
<g filter="url(#soft)">
<ellipse cx="766.90" cy="472.40" rx="21.00" ry="10.90" fill="#7a7c7e" stroke="none" stroke-width="0.5" transform="rotate(0 766.90 472.40)" />
<ellipse cx="766.90" cy="470.00" rx="21.00" ry="10.90" fill="url(#gNut)" stroke="#909294" stroke-width="0.4" transform="rotate(0 766.90 470.00)" />
<ellipse cx="766.50" cy="468.80" rx="14.50" ry="7.60" fill="#a3a5a7" stroke="none" stroke-width="0.5" transform="rotate(0 766.50 468.80)" />
<ellipse cx="766.30" cy="468.20" rx="12.20" ry="6.40" fill="#8b8d8f" stroke="none" stroke-width="0.5" transform="rotate(0 766.30 468.20)" />
<path d="M754.69 464.50 Q754.60 463.50 755.12 462.65 L758.68 456.85 Q759.20 456.00 760.18 455.82 L771.22 453.78 Q772.20 453.60 773.01 454.19 L777.79 457.71 Q778.60 458.30 778.52 459.30 L777.68 469.50 Q777.60 470.50 776.83 471.14 L772.37 474.86 Q771.60 475.50 770.60 475.45 L761.60 475.05 Q760.60 475.00 759.78 474.43 L756.12 471.87 Q755.30 471.30 755.21 470.30 Z" fill="#a9abae" stroke="#77797c" stroke-width="0.5" />
<polygon points="754.60,463.50 760.60,462.40 760.60,475.00 755.30,471.30" fill="#828486" stroke="none" stroke-width="0.6" stroke-linejoin="round" />
<polygon points="760.60,462.40 772.20,462.40 771.60,475.50 760.60,475.00" fill="#bcbdc0" stroke="none" stroke-width="0.6" stroke-linejoin="round" />
<polygon points="772.20,462.40 778.60,458.30 777.60,470.50 771.60,475.50" fill="#8e9092" stroke="none" stroke-width="0.6" stroke-linejoin="round" />
<path d="M755.58 463.32 Q754.60 463.50 755.12 462.65 L758.68 456.85 Q759.20 456.00 760.18 455.82 L771.22 453.78 Q772.20 453.60 773.01 454.19 L777.79 457.71 Q778.60 458.30 777.76 458.84 L773.04 461.86 Q772.20 462.40 771.20 462.40 L761.60 462.40 Q760.60 462.40 759.62 462.58 Z" fill="#a9abad" stroke="#8e9092" stroke-width="0.4" />
<ellipse cx="766.60" cy="457.60" rx="5.60" ry="3.40" fill="#5f6163" stroke="#7e8082" stroke-width="0.5" transform="rotate(-4 766.60 457.60)" />
<ellipse cx="767.20" cy="458.40" rx="4.00" ry="2.20" fill="#6f7173" stroke="none" stroke-width="0.5" transform="rotate(-4 767.20 458.40)" />
</g>
<polygon points="727.90,516.10 737.00,511.30 767.50,527.90 786.30,517.20 786.30,522.60 767.50,534.30 737.00,517.50 727.90,522.30" fill="#000" stroke="none" stroke-width="0.6" stroke-linejoin="round" />
<polygon points="765.40,495.20 765.40,501.10 761.60,503.00 756.30,500.90" fill="#000" stroke="none" stroke-width="0.6" stroke-linejoin="round" />
<polygon points="727.90,495.20 765.40,495.20 756.30,500.90 786.30,517.20 767.50,527.90 737.00,511.30 727.90,516.10" fill="#fff" stroke="#000" stroke-width="1.0" stroke-linejoin="round" />
</svg>
</body></html>
